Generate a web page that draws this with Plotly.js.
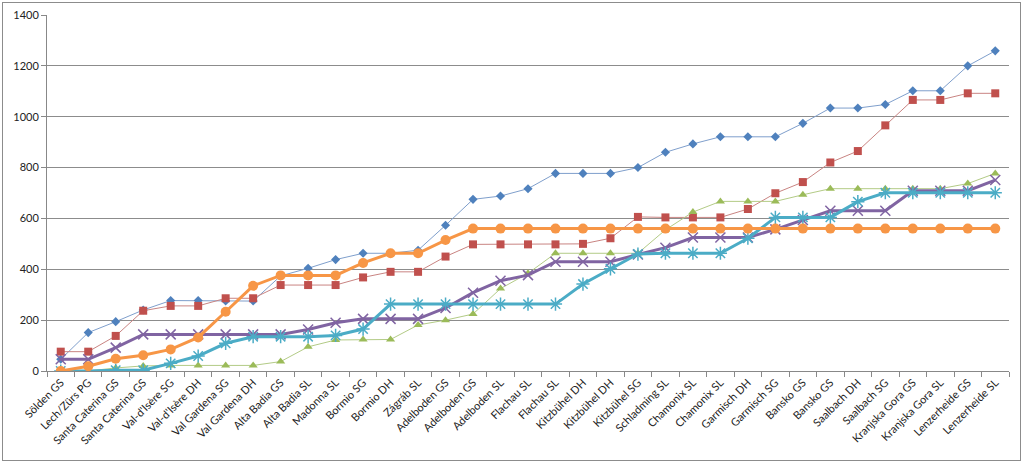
<!DOCTYPE html>
<html>
<head>
<meta charset="utf-8">
<script src="https://cdn.plot.ly/plotly-3.0.1.min.js"></script>
<style>
  html, body { margin: 0; padding: 0; background: #fff; }
  #wrap { position: relative; width: 1024px; height: 464px; }
  #chart { position: absolute; left: 0; top: 0; width: 1024px; height: 464px; }
  #frame { position: absolute; left: 2px; top: 2px; width: 1017px; height: 457px;
           border: 1px solid #8c8c8c; pointer-events: none; }
</style>
</head>
<body>
<div id="wrap"><div id="chart"></div><div id="frame"></div></div>
<script>
const categories = ["Sölden GS","Lech/Zürs PG","Santa Caterina GS","Santa Caterina GS","Val-d'Isère SG","Val-d'Isère DH","Val Gardena SG","Val Gardena DH","Alta Badia GS","Alta Badia SL","Madonna SL","Bormio SG","Bormio DH","Zágráb SL","Adelboden GS","Adelboden GS","Adelboden SL","Flachau SL","Flachau SL","Kitzbühel DH","Kitzbühel DH","Kitzbühel SG","Schladming SL","Chamonix SL","Chamonix SL","Garmisch DH","Garmisch SG","Bansko GS","Bansko GS","Saalbach DH","Saalbach SG","Kranjska Gora GS","Kranjska Gora SL","Lenzerheide GS","Lenzerheide SL"];

const seriesBlue   = [46,151,194,240,277,277,275,275,374,404,438,463,463,475,573,675,688,717,777,777,777,800,860,893,921,921,921,974,1034,1034,1048,1102,1102,1200,1259];
const seriesRed    = [76,76,138,237,256,256,286,286,338,338,338,368,390,390,450,498,498,498,498,500,522,606,604,604,604,637,699,743,820,865,966,1066,1066,1092,1092];
const seriesGreen  = [0,0,12,20,22,22,22,22,37,95,122,124,124,181,200,224,324,384,463,463,463,463,555,625,667,667,667,693,717,717,717,717,717,737,777];
const seriesPurple = [46,46,92,144,144,144,144,144,144,163,190,205,205,205,248,308,355,377,430,430,430,458,485,525,525,525,557,594,630,630,630,709,709,709,751];
const seriesCyan   = [0,0,3,3,30,59,109,135,135,135,140,165,263,263,263,263,263,263,263,342,402,460,463,463,463,522,604,604,604,666,701,701,701,701,701];
const seriesOrange = [0,19,48,62,85,132,233,335,376,376,376,425,463,463,515,560,560,560,560,560,560,560,560,560,560,560,560,560,560,560,560,560,560,560,560];

const yTicks = [0,200,400,600,800,1000,1200,1400];

const xIdx = categories.map((c, i) => i);

function tr(y, color, lineColor, width, symbol, size, mline) {
  return {
    x: xIdx, y: y, type: 'scatter', mode: 'lines+markers',
    line: { color: lineColor, width: width },
    marker: { symbol: symbol, size: size, color: color,
              line: mline || { width: 0 } },
    hoverinfo: 'y', showlegend: false
  };
}

const data = [
  tr(seriesBlue,   '#4F81BD', '#7f9fcc', 1, 'diamond', 7),
  tr(seriesRed,    '#C0504D', '#c98482', 1, 'square', 8),
  tr(seriesGreen,  '#9BBB59', '#b3cb86', 1, 'triangle-up', 8),
  tr(seriesPurple, '#8064A2', '#8064A2', 3, 'x-thin-open', 10, { color: '#a592c2', width: 1.5 }),
  tr(seriesCyan,   '#4BACC6', '#4BACC6', 3, 'asterisk-open', 11, { color: '#7cc3d7', width: 1.5 }),
  tr(seriesOrange, '#F79646', '#F79646', 3, 'circle', 10)
];

const layout = {
  width: 1024, height: 464,
  margin: { l: 47, r: 15, t: 15, b: 93 },
  paper_bgcolor: '#ffffff', plot_bgcolor: '#ffffff',
  font: { family: 'Lato, "Open Sans", sans-serif', size: 11, color: '#222' },
  xaxis: {
    range: [-0.5, categories.length - 0.5],
    tickmode: 'array', tickvals: xIdx, ticktext: categories,
    tickangle: -45, ticks: '', showgrid: false, zeroline: false,
    showline: true, linecolor: '#888', linewidth: 1,
    tickfont: { size: 11, color: '#222' },
    minor: { tickmode: 'linear', tick0: 0.5, dtick: 1, ticks: 'outside',
             ticklen: 5, tickcolor: '#888', tickwidth: 1, showgrid: false }
  },
  yaxis: {
    range: [0, 1400], tickmode: 'array', tickvals: yTicks,
    ticks: 'outside', ticklen: 5, tickcolor: '#888',
    showgrid: true, gridcolor: '#8c8c8c', gridwidth: 1,
    zeroline: false, showline: true, linecolor: '#888', linewidth: 1,
    tickfont: { size: 11, color: '#222' }
  },
  hovermode: false
};

Plotly.newPlot('chart', data, layout, { displayModeBar: false, staticPlot: true });
</script>
</body>
</html>
